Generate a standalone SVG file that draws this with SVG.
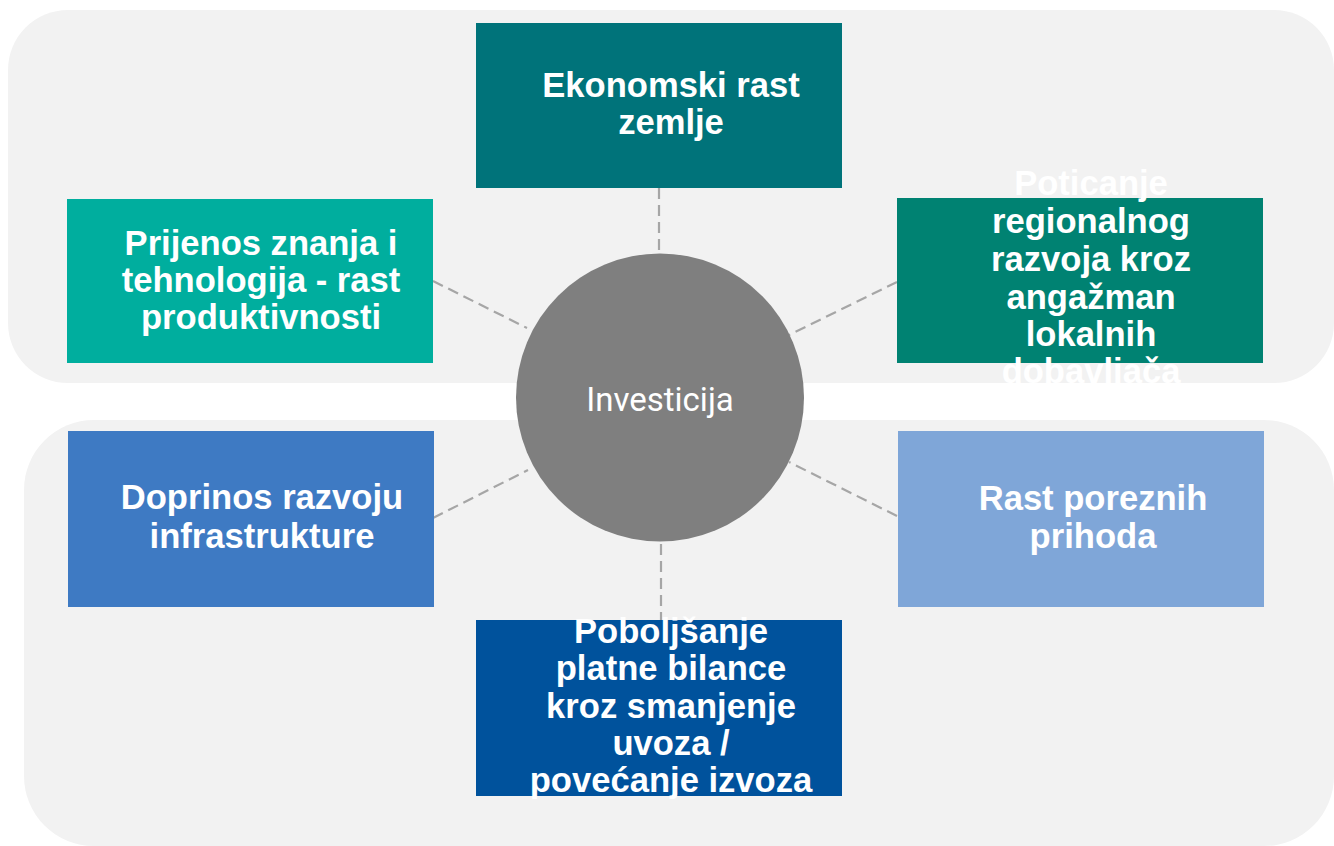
<svg xmlns="http://www.w3.org/2000/svg" width="1334" height="846" viewBox="0 0 1334 846">
<style>
.panel{fill:#F2F2F2}
.lbl{font-family:"Liberation Sans",Arial,sans-serif;font-weight:bold;font-size:34.6px;fill:#FFFFFF;text-anchor:middle}
.conn{stroke:#A6A6A6;stroke-width:2.2;stroke-dasharray:11,6;fill:none}
.ctr{font-family:Roboto,"Noto Sans",sans-serif;font-weight:400;font-size:33px;fill:#FFFFFF;text-anchor:middle}
</style>
<rect width="1334" height="846" fill="#FFFFFF"/>
<g id="panels">
<rect class="panel" x="8" y="10" width="1326" height="373" rx="60" ry="60"/>
<rect class="panel" x="24" y="420" width="1310" height="426" rx="70" ry="70"/>
</g>
<g id="connectors">
<line class="conn" x1="659" y1="188" x2="659" y2="250"/>
<line class="conn" x1="661" y1="544" x2="661" y2="640"/>
<line class="conn" x1="433" y1="281" x2="527" y2="328"/>
<line class="conn" x1="897" y1="282" x2="789" y2="335"/>
<line class="conn" x1="433" y1="518" x2="528" y2="470"/>
<line class="conn" x1="897" y1="516" x2="789" y2="462"/>
</g>
<g id="n-ekonomski">
<rect x="476" y="23" width="366" height="165" fill="#00737A"/>
<text class="lbl" x="671" y="97">Ekonomski rast</text>
<text class="lbl" x="671" y="134">zemlje</text>
</g>
<g id="n-prijenos">
<rect x="67" y="199" width="366" height="164" fill="#00AE9E"/>
<text class="lbl" x="261" y="255">Prijenos znanja i</text>
<text class="lbl" x="261" y="292">tehnologija - rast</text>
<text class="lbl" x="261" y="329">produktivnosti</text>
</g>
<g id="n-poticanje">
<rect x="897" y="198" width="366" height="165" fill="#008272"/>
<text class="lbl" x="1091" y="195">Poticanje</text>
<text class="lbl" x="1091" y="233">regionalnog</text>
<text class="lbl" x="1091" y="271">razvoja kroz</text>
<text class="lbl" x="1091" y="309">angažman</text>
<text class="lbl" x="1091" y="346">lokalnih</text>
<text class="lbl" x="1091" y="383">dobavljača</text>
</g>
<g id="n-doprinos">
<rect x="68" y="431" width="366" height="176" fill="#3E7AC3"/>
<text class="lbl" x="262" y="509">Doprinos razvoju</text>
<text class="lbl" x="262" y="548">infrastrukture</text>
</g>
<g id="n-porezni">
<rect x="898" y="431" width="366" height="176" fill="#7FA6D8"/>
<text class="lbl" x="1093" y="510">Rast poreznih</text>
<text class="lbl" x="1093" y="548">prihoda</text>
</g>
<g id="n-platna">
<rect x="476" y="620" width="366" height="176" fill="#00529C"/>
<text class="lbl" x="671" y="643">Poboljšanje</text>
<text class="lbl" x="671" y="680">platne bilance</text>
<text class="lbl" x="671" y="718">kroz smanjenje</text>
<text class="lbl" x="671" y="755">uvoza /</text>
<text class="lbl" x="671" y="792">povećanje izvoza</text>
</g>
<g id="n-investicija">
<circle cx="660" cy="397.5" r="144" fill="#7F7F7F"/>
<text class="ctr" x="660" y="411">Investicija</text>
</g>
</svg>
